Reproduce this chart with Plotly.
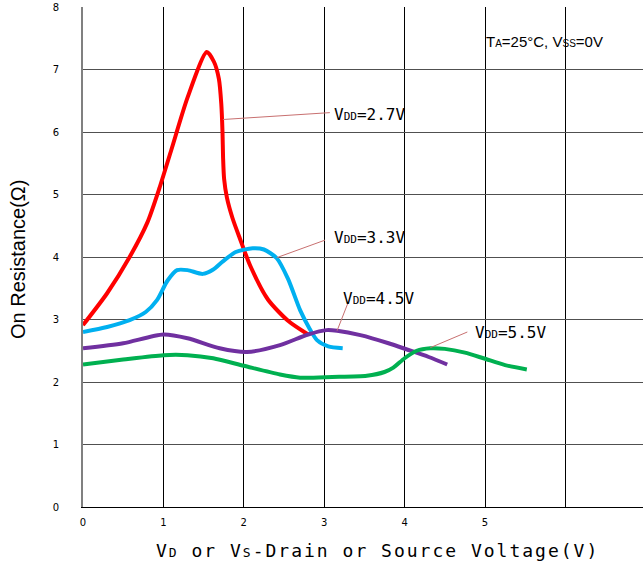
import plotly.graph_objects as go

# ---- data ----
red_x = [0.0, 0.3, 0.58, 0.8, 0.95, 1.1, 1.3, 1.54, 1.63, 1.69, 1.72, 1.735, 1.742, 1.755, 1.79, 1.86, 1.95, 2.08, 2.3, 2.55, 2.8]
red_y = [2.91, 3.42, 4.0, 4.55, 5.1, 5.72, 6.55, 7.28, 7.12, 6.85, 6.45, 6.0, 5.6, 5.25, 4.95, 4.62, 4.3, 3.86, 3.32, 2.98, 2.76]

cyan_x = [0.0, 0.3, 0.58, 0.78, 0.92, 1.05, 1.17, 1.3, 1.49, 1.62, 1.74, 1.9, 2.11, 2.25, 2.41, 2.55, 2.7, 2.82, 2.91, 3.05, 3.23]
cyan_y = [2.80, 2.88, 2.99, 3.12, 3.31, 3.62, 3.79, 3.79, 3.73, 3.80, 3.93, 4.08, 4.14, 4.12, 3.98, 3.65, 3.15, 2.85, 2.67, 2.57, 2.54]

purple_x = [0.0, 0.5, 1.0, 1.3, 1.7, 2.04, 2.45, 2.8, 3.03, 3.16, 3.45, 3.8, 4.03, 4.3, 4.53]
purple_y = [2.54, 2.62, 2.76, 2.70, 2.54, 2.48, 2.59, 2.76, 2.83, 2.82, 2.75, 2.62, 2.52, 2.40, 2.28]

green_x = [0.0, 0.5, 1.0, 1.3, 1.62, 2.0, 2.45, 2.7, 3.1, 3.53, 3.75, 3.86, 4.0, 4.15, 4.32, 4.5, 4.75, 4.98, 5.25, 5.52]
green_y = [2.28, 2.36, 2.43, 2.43, 2.38, 2.26, 2.12, 2.07, 2.08, 2.10, 2.16, 2.23, 2.38, 2.50, 2.54, 2.53, 2.47, 2.38, 2.27, 2.20]

series = [
    ("VDD=2.7V", red_x, red_y, "#ff0000"),
    ("VDD=3.3V", cyan_x, cyan_y, "#00b0f0"),
    ("VDD=4.5V", purple_x, purple_y, "#7030a0"),
    ("VDD=5.5V", green_x, green_y, "#00b050"),
]

x_tickvals = [0, 1, 2, 3, 4, 5, 6]
x_ticktext = ["0", "1", "2", "3", "4", "5", ""]
y_tickvals = [0, 1, 2, 3, 4, 5, 6, 7, 8]

# label positions: (curve point x, y, line end x, y, text x, y, label)
labels = [
    (1.74, 6.20, 3.07, 6.31, 3.10, 6.28, "V<span style='font-size:11px'>DD</span>=2.7V"),
    (2.41, 3.99, 3.01, 4.27, 3.10, 4.32, "V<span style='font-size:11px'>DD</span>=3.3V"),
    (3.16, 2.82, 3.30, 3.28, 3.21, 3.33, "V<span style='font-size:11px'>DD</span>=4.5V"),
    (4.32, 2.55, 4.78, 2.80, 4.85, 2.79, "V<span style='font-size:11px'>DD</span>=5.5V"),
]

fig = go.Figure()
for name, xs, ys, col in series:
    fig.add_trace(go.Scatter(x=xs, y=ys, mode="lines", name=name,
                             line=dict(color=col, width=4, shape="spline", smoothing=0.7)))

shapes = []
annotations = []
for (px, py, lx, ly, tx, ty, txt) in labels:
    shapes.append(dict(type="line", xref="x", yref="y", x0=px, y0=py, x1=lx, y1=ly,
                       line=dict(color="#c87070", width=1)))
    annotations.append(dict(x=tx, y=ty, xref="x", yref="y", text=txt, showarrow=False,
                            xanchor="left", yanchor="middle",
                            font=dict(family="DejaVu Sans Mono", size=16, color="black")))

annotations.append(dict(x=4.99, y=7.45, xref="x", yref="y",
                        text="T<span style='font-size:10px'>A</span>=25°C, V<span style='font-size:10px'>SS</span>=0V",
                        showarrow=False, xanchor="left", yanchor="middle",
                        font=dict(family="Liberation Sans", size=15, color="black")))

# axis titles
annotations.append(dict(x=0.525, y=-0.086, xref="paper", yref="paper",
                        text="<span style='letter-spacing:2px'>V<span style='font-size:13px'>D</span> or V<span style='font-size:13px'>S</span>-Drain or Source Voltage(V)</span>",
                        showarrow=False, xanchor="center", yanchor="middle",
                        font=dict(family="DejaVu Sans Mono", size=18, color="black")))
annotations.append(dict(x=-0.116, y=0.494, xref="paper", yref="paper",
                        text="On Resistance(Ω)", textangle=-90,
                        showarrow=False, xanchor="center", yanchor="middle",
                        font=dict(family="Liberation Sans", size=20, color="black")))

fig.update_layout(
    width=643, height=564,
    margin=dict(l=83, r=0, t=7, b=57),
    paper_bgcolor="white", plot_bgcolor="white",
    showlegend=False,
    shapes=shapes, annotations=annotations,
    xaxis=dict(range=[0, 6.965], tickvals=x_tickvals, ticktext=x_ticktext,
               automargin=False,
               showgrid=True, gridcolor="#000000", gridwidth=1,
               zeroline=False, showline=True, linecolor="#000000", linewidth=1,
               ticks="", ticklabelstandoff=6,
               tickfont=dict(family="DejaVu Sans", size=10, color="black")),
    yaxis=dict(range=[0, 8], tickvals=y_tickvals,
               automargin=False,
               showgrid=True, gridcolor="#505050", gridwidth=1,
               zeroline=False, showline=True, linecolor="#808080", linewidth=2,
               ticks="", ticklabelstandoff=20,
               tickfont=dict(family="DejaVu Sans", size=10, color="black")),
)

fig.write_html("out.html", config={"displayModeBar": False},
               post_script="document.body.style.margin='0';document.body.style.overflow='hidden';")
